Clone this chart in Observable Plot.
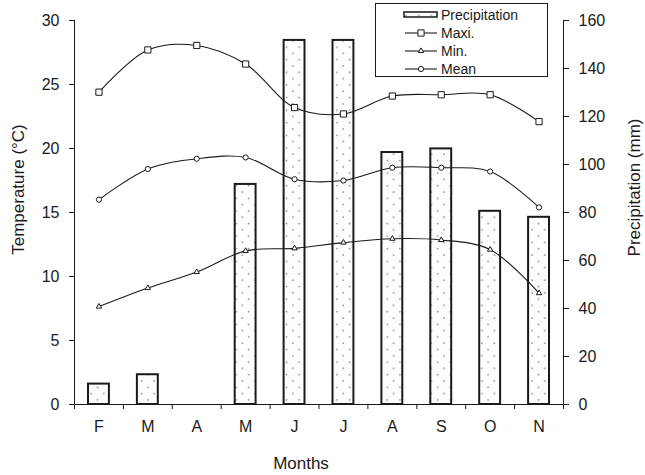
<!DOCTYPE html>
<html><head><meta charset="utf-8">
<script src="https://cdn.jsdelivr.net/npm/d3@7"></script>
<script src="https://cdn.jsdelivr.net/npm/@observablehq/plot@0.6"></script>
<style>
body{margin:0;background:#fff}
#chart{position:relative;width:645px;height:475px}
</style>
</head><body><div id="chart"></div>
<script>
const months = ["F","M","A","M","J","J","A","S","O","N"];
const precipitation = [8.5, 12.4, 0, 91.7, 151.7, 151.7, 105, 106.5, 80.5, 78];
const tMax  = [24.4, 27.7, 28.05, 26.6, 23.2, 22.7, 24.1, 24.2, 24.2, 22.1];
const tMin  = [7.65, 9.1, 10.35, 12.0, 12.2, 12.65, 12.95, 12.85, 12.1, 8.7];
const tMean = [16.0, 18.4, 19.2, 19.3, 17.6, 17.5, 18.5, 18.5, 18.2, 15.4];
const tempTicks = [0, 5, 10, 15, 20, 25, 30];
const precipTicks = [0, 20, 40, 60, 80, 100, 120, 140, 160];
const legendLabels = ["Precipitation", "Maxi.", "Min.", "Mean"];

const T_TOP = 30, P_TOP = 160;
const toT = p => p * T_TOP / P_TOP;
const data = months.map((m, i) => ({i, m, p: precipitation[i], max: tMax[i], min: tMin[i], mean: tMean[i]}));
const ink = "#1a1a1a";
const cx = d => d.i + 0.5;

const series = [
  {key: "max", symbol: "square", r: 3.5},
  {key: "min", symbol: "triangle", r: 2},
  {key: "mean", symbol: "circle", r: 2.6}
];

const plot = Plot.plot({
  width: 645, height: 475,
  marginLeft: 74, marginRight: 82, marginTop: 20, marginBottom: 71,
  style: {fontFamily: "'Liberation Sans', Arial, sans-serif", fontSize: "16px", color: ink, background: "#fff"},
  x: {type: "linear", domain: [0, months.length]},
  y: {domain: [0, T_TOP]},
  marks: [
    Plot.rectY(data, {x1: d => d.i, x2: d => d.i + 1, y: d => toT(d.p), insetLeft: 14, insetRight: 14,
      fill: "url(#dots)", stroke: ink, strokeWidth: 2}),
    ...series.flatMap(s => [
      Plot.line(data, {x: cx, y: s.key, curve: "catmull-rom", stroke: ink, strokeWidth: 1.1}),
      Plot.dot(data, {x: cx, y: s.key, symbol: s.symbol, r: s.r, fill: "white", stroke: ink, strokeWidth: 1})
    ]),
    Plot.axisY(tempTicks, {anchor: "left", tickSize: 5, tickPadding: 10, label: null, stroke: ink}),
    Plot.axisY(precipTicks.map(toT), {anchor: "right", tickSize: 5, tickPadding: 10, label: null,
      tickFormat: v => String(Math.round(v * P_TOP / T_TOP)), stroke: ink}),
    Plot.ruleY([0], {stroke: ink}),
    Plot.ruleX([0], {stroke: ink}),
    Plot.ruleX([months.length], {stroke: ink}),
    Plot.axisX(d3.range(0, months.length + 1), {anchor: "bottom", tickSize: 5, tickFormat: () => "", label: null, stroke: ink}),
    Plot.axisX(months.map((m, i) => i + 0.5), {anchor: "bottom", tickSize: 0, tickPadding: 16, label: null,
      tickFormat: v => months[Math.floor(v)]}),
    Plot.text(["Temperature (°C)"], {frameAnchor: "left", textAnchor: "middle", dx: -56, dy: -23, rotate: -90, fontSize: 17, fill: ink}),
    Plot.text(["Precipitation (mm)"], {frameAnchor: "right", textAnchor: "middle", dx: 71, dy: -25, rotate: -90, fontSize: 17, fill: ink}),
    Plot.text(["Months"], {frameAnchor: "bottom", textAnchor: "middle", dx: -18, dy: 64, fontSize: 17, fill: ink})
  ]
});

const svg = d3.select(plot);
const defs = svg.insert("defs", ":first-child");
const ps = 12.6;
const pat = defs.append("pattern").attr("id", "dots").attr("patternUnits", "userSpaceOnUse")
  .attr("width", ps).attr("height", ps);
pat.append("rect").attr("width", ps).attr("height", ps).attr("fill", "#fdfdfd");
pat.append("circle").attr("cx", 3).attr("cy", 3).attr("r", 0.9).attr("fill", "#8a8a8a");
pat.append("circle").attr("cx", 3 + ps / 2).attr("cy", 3 + ps / 2).attr("r", 0.9).attr("fill", "#8a8a8a");

// legend
const lg = svg.append("g").attr("font-family", "'Liberation Sans', Arial, sans-serif").attr("font-size", 14)
  .attr("fill", ink).attr("text-anchor", "start");
lg.append("rect").attr("x", 375.5).attr("y", 3.5).attr("width", 172).attr("height", 73).attr("fill", "white").attr("stroke", ink);
const rowY = [15, 33, 51, 69];
legendLabels.forEach((lab, k) => {
  const y = rowY[k];
  if (k === 0) {
    lg.append("rect").attr("x", 404).attr("y", y - 3).attr("width", 33).attr("height", 5)
      .attr("fill", "url(#dots)").attr("stroke", ink).attr("stroke-width", 1.5);
  } else {
    lg.append("line").attr("x1", 405).attr("x2", 437).attr("y1", y).attr("y2", y).attr("stroke", ink).attr("stroke-width", 1.1);
    const s = series[k - 1];
    const sym = {square: d3.symbolSquare, triangle: d3.symbolTriangle, circle: d3.symbolCircle}[s.symbol];
    lg.append("path").attr("d", d3.symbol(sym, Math.PI * s.r * s.r)()).attr("transform", `translate(421,${y})`)
      .attr("fill", "white").attr("stroke", ink);
  }
  lg.append("text").attr("x", 441).attr("y", y).attr("dy", "0.35em").attr("text-anchor", "start").text(lab);
});

document.getElementById("chart").appendChild(plot);
</script>
</body></html>
